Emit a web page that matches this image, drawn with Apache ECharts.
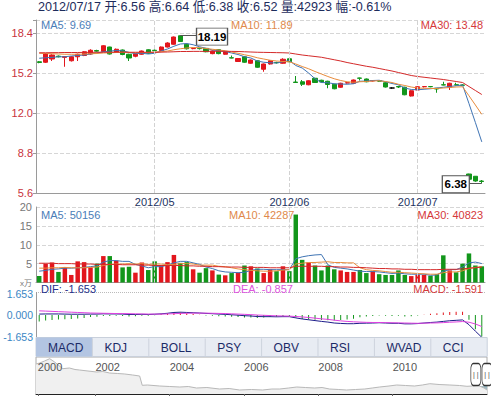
<!DOCTYPE html>
<html><head><meta charset="utf-8">
<script src="https://cdn.jsdelivr.net/npm/echarts@6/dist/echarts.min.js"></script>
<style>html,body{margin:0;padding:0;background:#fff}#c{width:491px;height:396px}</style>
</head><body><div id="c"></div>
<script>
// ---------- data ----------
const dates = ['2012/03/30','2012/04/05','2012/04/06','2012/04/09','2012/04/10','2012/04/11','2012/04/12','2012/04/13','2012/04/16','2012/04/17','2012/04/18','2012/04/19','2012/04/20','2012/04/23','2012/04/24','2012/04/25','2012/04/26','2012/04/27',
 '2012/05/02','2012/05/03','2012/05/04','2012/05/07','2012/05/08','2012/05/09','2012/05/10','2012/05/11','2012/05/15','2012/05/16','2012/05/17','2012/05/18','2012/05/21','2012/05/22','2012/05/23','2012/05/24','2012/05/25','2012/05/28','2012/05/29','2012/05/30','2012/05/31',
 '2012/06/01','2012/06/04','2012/06/05','2012/06/06','2012/06/07','2012/06/08','2012/06/11','2012/06/12','2012/06/13','2012/06/14','2012/06/15','2012/06/18','2012/06/19','2012/06/20','2012/06/21','2012/06/25','2012/06/26','2012/06/27','2012/06/28','2012/06/29',
 '2012/07/02','2012/07/03','2012/07/04','2012/07/05','2012/07/06','2012/07/09','2012/07/10','2012/07/12','2012/07/13','2012/07/16','2012/07/17'];
const open  = [16.10,16.06,16.32,16.55,16.45,16.18,16.50,16.60,16.72,17.00,16.92,17.28,16.86,17.04,16.70,16.54,16.70,17.06,17.02,17.00,17.28,17.50,18.18,17.50,17.15,17.18,17.17,16.75,17.07,16.70,16.42,16.12,16.50,15.98,16.18,15.50,15.92,16.04,15.98,16.34,14.48,14.50,14.26,14.78,14.62,14.54,14.30,14.06,14.40,14.38,14.80,14.72,14.56,14.58,14.42,14.00,14.12,14.06,13.36,13.84,14.10,14.12,13.98,14.26,14.06,14.26,14.24,7.12,6.94,6.56];
const close = [16.04,16.72,16.64,16.50,16.52,16.50,16.70,16.90,17.02,16.95,17.38,16.72,17.10,16.68,16.40,16.74,16.96,16.78,16.98,17.28,17.60,18.08,17.72,17.14,17.18,17.15,16.90,16.96,16.75,16.90,16.40,16.36,16.06,16.24,15.66,15.92,16.18,16.02,16.30,16.10,14.44,14.30,14.58,14.44,14.48,14.28,13.94,14.38,14.42,14.64,14.78,14.50,14.60,14.55,14.08,14.00,14.08,13.46,13.78,14.10,14.12,14.10,13.92,14.24,14.38,14.24,14.22,6.70,6.56,6.52];
const low   = [15.98,16.00,16.16,16.45,15.70,16.12,16.16,16.55,16.66,16.90,16.88,16.68,16.80,16.62,16.16,16.46,16.66,16.74,16.94,16.96,17.24,17.46,17.68,17.08,17.10,17.08,16.86,16.70,16.70,16.66,16.38,16.08,16.02,15.94,15.62,15.30,15.88,15.96,15.94,16.06,14.42,14.16,14.22,14.40,14.44,13.98,13.90,14.02,14.36,14.34,14.60,14.46,14.52,14.50,14.04,13.94,14.00,13.42,13.32,13.80,14.04,14.06,13.62,14.22,13.84,14.20,14.18,6.68,6.50,6.38];
const high  = [16.16,16.80,16.70,16.60,16.56,16.56,16.75,16.95,17.10,17.06,17.42,17.30,17.16,17.08,16.74,16.78,17.00,17.10,17.08,17.32,17.66,18.12,18.19,17.56,17.24,17.22,17.20,17.00,17.10,16.94,16.60,16.40,16.54,16.28,16.20,15.96,16.22,16.10,16.38,16.40,14.96,14.64,14.62,14.82,14.66,14.58,14.34,14.42,14.48,14.68,14.82,14.76,14.64,14.62,14.46,14.06,14.18,14.10,13.82,14.14,14.16,14.16,14.00,14.50,14.42,14.42,14.30,7.14,6.96,6.64];
const ma5  = [16.38,16.42,16.45,16.50,16.50,16.56,16.60,16.64,16.72,16.80,16.90,16.95,17.00,16.98,16.85,16.74,16.78,16.72,16.78,16.96,17.12,17.34,17.52,17.56,17.46,17.30,17.18,17.04,16.98,16.92,16.80,16.68,16.50,16.40,16.16,16.06,16.02,16.00,16.10,16.20,15.80,15.60,15.20,14.74,14.44,14.42,14.34,14.32,14.30,14.34,14.54,14.56,14.60,14.62,14.50,14.36,14.26,14.00,13.88,13.86,13.90,13.94,14.00,14.06,14.12,14.18,14.24,12.76,11.24,9.69];
const ma10 = [16.78,16.76,16.74,16.72,16.70,16.70,16.70,16.72,16.74,16.76,16.80,16.82,16.84,16.86,16.84,16.82,16.84,16.84,16.86,16.90,16.96,17.06,17.14,17.20,17.24,17.22,17.16,17.10,17.04,16.98,16.88,16.78,16.66,16.56,16.42,16.32,16.22,16.16,16.12,16.10,15.92,15.72,15.54,15.32,15.12,14.92,14.74,14.60,14.50,14.46,14.50,14.52,14.56,14.58,14.52,14.44,14.30,14.20,14.08,14.00,13.98,13.96,13.96,14.00,14.04,14.08,14.10,13.38,12.64,11.89];
const ma30 = [16.82,16.82,16.83,16.83,16.84,16.84,16.84,16.85,16.85,16.86,16.86,16.86,16.87,16.87,16.86,16.86,16.86,16.86,16.86,16.87,16.88,16.90,16.92,16.92,16.93,16.93,16.93,16.94,16.94,16.94,16.93,16.92,16.90,16.88,16.86,16.85,16.84,16.83,16.82,16.80,16.72,16.64,16.58,16.52,16.46,16.36,16.26,16.16,16.04,15.94,15.84,15.74,15.66,15.56,15.46,15.36,15.24,15.12,15.00,14.92,14.86,14.80,14.74,14.68,14.60,14.52,14.44,14.12,13.80,13.48];
// volume in 万 (10k)
const volume = [1.7,5.0,5.3,2.8,4.0,2.0,5.6,5.4,4.0,5.0,7.0,7.0,5.8,4.0,4.2,2.6,5.3,3.3,5.6,4.5,5.4,7.3,5.2,5.4,3.5,2.6,3.8,3.2,2.1,1.9,2.5,2.6,4.5,4.3,3.7,2.5,3.5,3.0,4.3,3.0,18.0,6.0,5.3,4.5,3.2,4.5,3.5,3.2,2.8,2.8,3.3,2.5,3.0,2.2,2.0,2.0,3.2,2.0,1.7,2.1,2.0,1.8,2.2,7.2,3.2,2.7,5.0,7.7,4.5,4.2923];
const volMa5  = [3.0,3.2,3.5,3.6,3.8,3.8,3.9,4.0,4.2,4.4,5.4,5.8,5.8,5.6,5.6,4.8,4.4,3.9,4.2,4.2,4.6,5.2,5.6,5.6,5.2,4.8,4.1,3.7,3.1,2.8,2.7,2.6,2.7,3.2,3.5,3.5,3.4,3.4,3.4,3.4,6.3,6.8,7.1,7.3,7.4,4.7,4.0,3.8,3.6,3.3,3.0,2.9,2.9,2.8,2.6,2.4,2.5,2.3,2.2,2.2,2.2,1.9,2.0,3.0,3.4,3.4,4.1,5.2,5.4,5.0156];
const volMa10 = [3.8,3.8,3.9,3.9,4.0,3.9,3.9,3.9,4.0,4.1,4.5,4.8,4.9,4.9,5.0,4.9,5.0,4.8,4.9,4.9,4.7,4.8,5.0,5.0,4.9,4.6,4.6,4.6,4.3,4.2,3.9,3.6,3.4,3.2,3.1,3.0,3.0,3.1,3.3,3.4,4.9,5.1,5.3,5.3,5.4,5.5,5.3,5.3,5.2,5.2,3.9,3.4,3.2,3.1,2.9,2.7,2.7,2.6,2.5,2.4,2.3,2.2,2.2,2.6,2.8,2.8,3.1,3.7,4.0,4.2287];
const volMa30 = [5.1,5.1,5.1,5.0,5.0,5.0,4.9,4.9,4.9,4.8,4.8,4.8,4.8,4.7,4.7,4.7,4.6,4.6,4.5,4.5,4.5,4.5,4.5,4.4,4.4,4.3,4.3,4.2,4.2,4.1,4.1,4.1,4.0,4.0,4.0,4.0,3.9,3.9,3.9,3.9,4.3,4.3,4.3,4.3,4.3,4.2,4.2,4.1,4.1,4.0,4.0,3.9,3.8,3.7,3.7,3.6,3.6,3.5,3.5,3.4,3.4,3.4,3.4,3.5,3.5,3.5,3.6,3.8,3.9,4.0823];
const dif  = [0.06,0.07,0.07,0.07,0.06,0.05,0.05,0.05,0.06,0.06,0.08,0.07,0.07,0.06,0.03,0.03,0.04,0.03,0.05,0.08,0.12,0.18,0.20,0.18,0.16,0.14,0.11,0.09,0.06,0.04,0.01,-0.02,-0.06,-0.08,-0.12,-0.13,-0.13,-0.14,-0.13,-0.13,-0.22,-0.30,-0.36,-0.42,-0.48,-0.53,-0.60,-0.63,-0.65,-0.65,-0.62,-0.61,-0.60,-0.58,-0.60,-0.62,-0.62,-0.66,-0.66,-0.64,-0.60,-0.56,-0.53,-0.48,-0.43,-0.40,-0.37,-0.72,-1.20,-1.653];
const dea  = [0.30,0.28,0.26,0.24,0.22,0.20,0.18,0.16,0.14,0.13,0.12,0.11,0.10,0.10,0.09,0.08,0.07,0.06,0.06,0.06,0.07,0.09,0.11,0.12,0.13,0.13,0.13,0.12,0.11,0.10,0.08,0.06,0.04,0.02,-0.01,-0.03,-0.05,-0.07,-0.08,-0.09,-0.12,-0.15,-0.19,-0.24,-0.29,-0.33,-0.39,-0.44,-0.48,-0.51,-0.53,-0.55,-0.56,-0.56,-0.57,-0.58,-0.59,-0.60,-0.61,-0.62,-0.61,-0.60,-0.59,-0.57,-0.54,-0.52,-0.49,-0.54,-0.67,-0.857];
const macd = [-0.48,-0.42,-0.38,-0.34,-0.32,-0.30,-0.26,-0.22,-0.16,-0.14,-0.08,-0.08,-0.06,-0.08,-0.12,-0.10,-0.06,-0.06,-0.02,0.04,0.10,0.18,0.18,0.12,0.06,0.02,-0.04,-0.06,-0.10,-0.12,-0.14,-0.16,-0.20,-0.20,-0.22,-0.20,-0.16,-0.14,-0.10,-0.08,-0.20,-0.30,-0.34,-0.36,-0.38,-0.40,-0.42,-0.38,-0.34,-0.28,-0.18,-0.12,-0.08,-0.04,-0.06,-0.08,-0.06,-0.12,-0.10,-0.04,0.02,0.08,0.12,0.18,0.22,0.24,0.24,-0.36,-1.06,-1.591];
const navYears  = [2000.4,2000.5,2000.63,2000.77,2000.9,2001.12,2001.3,2001.45,2001.57,2001.8,2002.03,2002.2,2002.38,2002.6,2002.79,2003.0,2003.19,2003.26,2003.4,2003.73,2004.0,2004.27,2004.5,2004.72,2005.0,2005.34,2005.6,2005.88,2006.2,2006.5,2006.75,2006.96,2007.2,2007.42,2007.65,2007.9,2008.1,2008.3,2008.55,2008.76,2009.0,2009.25,2009.45,2009.65,2009.9,2010.11,2010.35,2010.59,2010.8,2011.0,2011.25,2011.54,2011.8,2012.0,2012.15,2012.3,2012.46,2012.54];
const navValues = [30,31,33,35.3,32,25.3,26,24.5,24,23,22,22.5,21,20.5,20,19,18,8.7,9,8,7.5,7,7.5,6,6.5,5,5.5,4,4.5,4,5,5,6,7,6.5,6,6.5,5,4.5,4,4.5,5,6,7,8,9,8.5,8,9,10.3,9.5,9,8.5,7.7,8,8.5,6,4];
const navTickYears = [2000.45,2002,2004,2006,2008,2010];
const navWindow = [2012.24, 2012.54];
const tabs = ['MACD','KDJ','BOLL','PSY','OBV','RSI','WVAD','CCI'];

// ---------- chart ----------
const UP = '#e2161d', DOWN = '#12961b';
const FONT = "'Liberation Sans', Arial, 'Noto Sans CJK SC', sans-serif";
const last = dates.length - 1;
const monthStarts = dates.map((d, i) => (i >= 5 && d.slice(5, 7) !== dates[i - 1].slice(5, 7)) ? i : -1).filter(i => i >= 0);
const monthSet = new Set(monthStarts);

const candleData = dates.map((d, i) => {
  const item = { value: [open[i], close[i], low[i], high[i]] };
  if (open[i] === close[i]) item.itemStyle = { color: '#000', color0: '#000', borderColor: '#000', borderColor0: '#000' };
  return item;
});
const volData = volume.map((v, i) => ({ value: v, itemStyle: { color: close[i] > open[i] ? UP : DOWN } }));
const macdData = macd.map(v => ({ value: v, itemStyle: { color: v >= 0 ? UP : DOWN } }));

let hiIdx = 0, loIdx = 0;
high.forEach((v, i) => { if (v > high[hiIdx]) hiIdx = i; });
low.forEach((v, i) => { if (v < low[loIdx]) loIdx = i; });

const monthLines = monthStarts.map(i => ({ xAxis: dates[i] }));
const vLineStyle = { type: 'dashed', color: '#d2d2d2', width: 1 };

const lineSeries = (name, data, color, xi) => ({
  name, type: 'line', data, xAxisIndex: xi, yAxisIndex: xi, symbol: 'none', smooth: false,
  lineStyle: { color, width: 1 }, silent: true, z: 3
});

const header = dates[last] + ' 开:' + open[last].toFixed(2) + ' 高:' + high[last].toFixed(2) + ' 低:' + low[last].toFixed(2) +
  ' 收:' + close[last].toFixed(2) + ' 量:' + Math.round(volume[last] * 10000) + ' 幅:' + ((close[last] - close[last - 1]) / close[last - 1] * 100).toFixed(2) + '%';

const txt = (text, x, y, color, align, size) => ({
  type: 'text', x, y, silent: true, z: 10,
  style: { text, fill: color, font: (size || 11) + 'px ' + FONT, textAlign: align || 'left', align: align || 'left', textVerticalAlign: 'middle', verticalAlign: 'middle' }
});

const graphics = [
  txt(header, 38, 6.5, '#1d2c5c', 'left', 12.6),
  txt('MA5: ' + ma5[last].toFixed(2), 41, 24.5, '#4a7db8'),
  txt('MA10: ' + ma10[last].toFixed(2), 231, 24.5, '#e0894b'),
  txt('MA30: ' + ma30[last].toFixed(2), 483, 24.5, '#d5383a', 'right'),
  txt('MA5: ' + Math.round(volMa5[last] * 10000), 41, 214.7, '#4a7db8'),
  txt('MA10: ' + Math.round(volMa10[last] * 10000), 229, 214.7, '#e0894b'),
  txt('MA30: ' + Math.round(volMa30[last] * 10000), 483, 214.7, '#d5383a', 'right'),
  txt('DIF: ' + dif[last].toFixed(3), 41, 289, '#23308a'),
  txt('DEA: ' + dea[last].toFixed(3), 233, 289, '#dd55dd'),
  txt('MACD: ' + macd[last].toFixed(3), 483, 289, '#d5383a', 'right')
];
// tab bar
const tabX = 36, tabW = 56.4, tabY = 337.5, tabH = 19;
graphics.push({ type: 'rect', silent: true, z: 5, shape: { x: tabX, y: tabY, width: tabW * tabs.length, height: tabH }, style: { fill: '#e8ecf3', stroke: '#c9d0db', lineWidth: 1 } });
graphics.push({ type: 'rect', silent: true, z: 6, shape: { x: tabX, y: tabY, width: tabW, height: tabH }, style: { fill: '#b3c5e2' } });
tabs.forEach((t, i) => {
  if (i > 0) graphics.push({ type: 'line', silent: true, z: 6, shape: { x1: tabX + i * tabW, y1: tabY + 1, x2: tabX + i * tabW, y2: tabY + tabH }, style: { stroke: '#cdd3dd', lineWidth: 1 } });
  graphics.push(txt(t, tabX + i * tabW + 12, tabY + tabH / 2 + 0.5, '#1b2a66', 'left', 12));
});

const option = {
  animation: false,
  textStyle: { fontFamily: FONT },
  graphic: graphics,
  grid: [
    { left: 36, width: 449, top: 20, height: 173 },
    { left: 36, width: 449, top: 207, height: 75.5 },
    { left: 36, width: 449, top: 292.5, height: 44.8 },
    { left: 36, width: 451, top: 357, height: 37, show: true, borderColor: '#aaa', borderWidth: 1 }
  ],
  xAxis: [
    { type: 'category', gridIndex: 0, data: dates, axisLine: { lineStyle: { color: '#9a9a9a' } }, axisTick: { show: false },
      axisLabel: { interval: (i) => monthSet.has(i), formatter: v => v.slice(0, 7), color: '#23335f', fontSize: 11, margin: 3 }, splitLine: { show: false } },
    { type: 'category', gridIndex: 1, data: dates, position: 'top', axisLine: { lineStyle: { color: '#9a9a9a' } }, axisTick: { show: false }, axisLabel: { show: false }, splitLine: { show: false } },
    { type: 'category', gridIndex: 2, data: dates, axisLine: { show: false }, axisTick: { show: false }, axisLabel: { show: false }, splitLine: { show: false } },
    { type: 'value', gridIndex: 3, z: 10, min: navYears[0], max: navYears[navYears.length - 1], position: 'top',
      axisLine: { lineStyle: { color: '#222' } },
      axisTick: { show: true, inside: true, length: 5, customValues: navTickYears, lineStyle: { color: '#666' } },
      axisLabel: { inside: true, showMinLabel: true, hideOverlap: false, customValues: navTickYears, formatter: v => String(Math.floor(v)), align: 'left', color: '#555', fontSize: 11, margin: 4 },
      splitLine: { show: false } }
  ],
  yAxis: [
    { type: 'value', gridIndex: 0, min: 5.6, max: 19.44, interval: 3.2,
      axisLine: { show: true, lineStyle: { color: '#9a9a9a' } }, axisTick: { show: true, length: 3, lineStyle: { color: '#9a9a9a' } },
      axisLabel: { color: '#c8323c', fontSize: 11, margin: 3, formatter: v => v > 19 ? '' : v.toFixed(1) },
      splitLine: { lineStyle: { type: 'dashed', color: '#d6d6d6' } } },
    { type: 'value', gridIndex: 1, min: 0, max: 20, interval: 5,
      axisLine: { show: true, lineStyle: { color: '#9a9a9a' } }, axisTick: { show: false },
      axisLabel: { color: '#777', fontSize: 11, margin: 4, formatter: v => v === 0 ? '{u|x万}' : String(v), rich: { u: { fontSize: 8, color: '#777', padding: [1, 0, 0, 0] } } },
      splitLine: { lineStyle: { type: 'dashed', color: '#d6d6d6' } } },
    { type: 'value', gridIndex: 2, min: -1.653, max: 1.653, interval: 1.653,
      axisLine: { show: true, lineStyle: { color: '#9a9a9a' } }, axisTick: { show: false },
      axisLabel: { color: '#3a86c4', fontSize: 10.5, margin: 3, formatter: v => v > 1 ? '{t|' + v.toFixed(3) + '}' : v.toFixed(3),
        rich: { t: { fontSize: 10.5, color: '#3a86c4', padding: [3, 0, 0, 0] } } },
      splitLine: { lineStyle: { type: 'dotted', color: ['rgba(0,0,0,0)', 'rgba(0,0,0,0)', '#bbbbbb'] } } },
    { type: 'value', gridIndex: 3, min: 0, max: 37, show: false }
  ],
  series: [
    { name: 'K', type: 'candlestick', xAxisIndex: 0, yAxisIndex: 0, data: candleData, barWidth: '72%',
      itemStyle: { color: UP, color0: DOWN, borderColor: UP, borderColor0: DOWN, borderWidth: 1 },
      markLine: { silent: true, symbol: ['none', 'none'], label: { show: false }, animation: false,
        data: monthLines.map(m => Object.assign({ lineStyle: vLineStyle }, m)).concat([
          [{ coord: [dates[hiIdx], high[hiIdx]], lineStyle: { type: 'solid', color: '#555', width: 1 } }, { coord: [dates[hiIdx + 3], high[hiIdx]] }],
          [{ coord: [dates[loIdx - 2], low[loIdx]], lineStyle: { type: 'solid', color: '#555', width: 1 } }, { coord: [dates[loIdx], low[loIdx]] }]
        ]) },
      markPoint: { silent: true, animation: false,
        data: [
          { coord: [dates[hiIdx], high[hiIdx]], value: high[hiIdx].toFixed(2), symbol: 'rect', symbolSize: [31, 17], symbolOffset: [31.7, 1] },
          { coord: [dates[loIdx], low[loIdx]], value: low[loIdx].toFixed(2), symbol: 'rect', symbolSize: [27, 17], symbolOffset: [-26, 1] }
        ],
        itemStyle: { color: '#fff', borderColor: '#555', borderWidth: 1 },
        label: { show: true, position: 'inside', color: '#000', fontWeight: 'bold', fontSize: 11.5, formatter: p => p.value } } },
    lineSeries('MA5', ma5, '#3f74b4', 0),
    lineSeries('MA10', ma10, '#e98c3c', 0),
    lineSeries('MA30', ma30, '#d42a2a', 0),
    { name: 'VOL', type: 'bar', xAxisIndex: 1, yAxisIndex: 1, data: volData, barWidth: '70%',
      markLine: { silent: true, symbol: ['none', 'none'], label: { show: false }, animation: false, lineStyle: vLineStyle, data: monthLines } },
    lineSeries('VMA5', volMa5, '#3f74b4', 1),
    lineSeries('VMA10', volMa10, '#e98c3c', 1),
    lineSeries('VMA30', volMa30, '#d42a2a', 1),
    { name: 'MACD', type: 'bar', xAxisIndex: 2, yAxisIndex: 2, data: macdData, barWidth: 1 },
    lineSeries('DIF', dif, '#1d1d8a', 2),
    lineSeries('DEA', dea, '#e040e0', 2),
    { name: 'NAV', type: 'line', xAxisIndex: 3, yAxisIndex: 3, z: 1, data: navYears.map((y, i) => [y, navValues[i]]), symbol: 'none',
      lineStyle: { color: '#b8b8b8', width: 1 }, areaStyle: { color: '#f0f0f0', opacity: 1 }, silent: true,
      markArea: { silent: true, itemStyle: { color: '#9dbac3' }, data: [[{ coord: [navWindow[0], 0] }, { coord: [navWindow[1], 8] }]] },
      markPoint: { silent: true, z: 12, symbol: 'roundRect', symbolSize: [10, 22], itemStyle: { color: '#fff', borderColor: '#333', borderWidth: 1 },
        label: { show: true, formatter: '| |', color: '#444', fontSize: 7 },
        data: [{ coord: [navWindow[0], 19.5] }, { coord: [navWindow[1], 19.5] }] } }
  ]
};
const chart = echarts.init(document.getElementById('c'), null, { renderer: 'svg' });
chart.setOption(option);
</script>
</body></html>
